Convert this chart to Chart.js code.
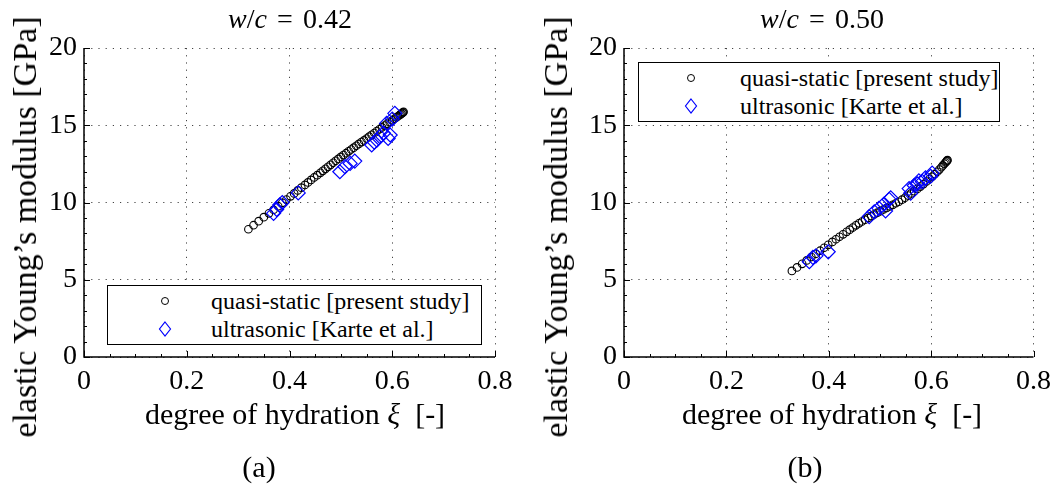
<!DOCTYPE html>
<html>
<head>
<meta charset="utf-8">
<script src="https://cdn.jsdelivr.net/npm/chart.js@4.4.0/dist/chart.umd.min.js"></script>
<style>
    body { margin: 0; background: #fff; }
    #wrap { position: relative; width: 1059px; height: 496px; overflow: hidden;
        font-family: 'Liberation Serif', 'DejaVu Serif', serif; color: #000; }
    #wrap canvas { position: absolute; top: 0; }
    .lbl { position: absolute; transform: translate(-50%, -50%); white-space: nowrap; line-height: 1; }
    .title { font-size: 28px; }
    .title .eq { margin: 0 0.36em; }
    .xlbl { font-size: 30px; }
    .ylbl { font-size: 34px; transform: translate(-50%, -50%) rotate(-90deg); }
    .sub { font-size: 30px; }
    .legend { position: absolute; box-sizing: border-box; border: 1.5px solid #000; background: #fff; font-size: 24px; }
    .legend svg { position: absolute; }
    .legend span { position: absolute; transform: translateY(-50%); white-space: nowrap; line-height: 1; }
</style>
</head>
<body>
<div id="wrap">
    <canvas id="chartA" width="529" height="496" style="left:0;"></canvas>
    <canvas id="chartB" width="530" height="496" style="left:529px;"></canvas>

    <div class="lbl title" style="left:290px;top:19px;"><i>w</i>/<i>c</i><span class="eq">=</span>0.42</div>
    <div class="lbl title" style="left:822px;top:19px;"><i>w</i>/<i>c</i><span class="eq">=</span>0.50</div>

    <div class="lbl ylbl" style="left:25px;top:227px;">elastic Young’s modulus [GPa]</div>
    <div class="lbl ylbl" style="left:556px;top:227px;">elastic Young’s modulus [GPa]</div>

    <div class="lbl xlbl" style="left:295px;top:414px;">degree of hydration <i>ξ</i>&nbsp;&nbsp;[-]</div>
    <div class="lbl xlbl" style="left:832px;top:414px;">degree of hydration <i>ξ</i>&nbsp;&nbsp;[-]</div>

    <div class="lbl sub" style="left:259px;top:467px;">(a)</div>
    <div class="lbl sub" style="left:805px;top:467px;">(b)</div>

    <div class="legend" style="left:107px;top:285px;width:375px;height:60px;">
        <svg style="left:50px;top:8px;" width="14" height="14"><circle cx="7" cy="7" r="3.5" fill="none" stroke="#000" stroke-width="1"/></svg>
        <span style="left:103px;top:15px;">quasi-static [present study]</span>
        <svg style="left:50px;top:35px;" width="14" height="16"><polygon points="7,1 12.5,8 7,15 1.5,8" fill="none" stroke="#0000ff" stroke-width="1.2"/></svg>
        <span style="left:103px;top:43px;">ultrasonic [Karte et al.]</span>
    </div>
    <div class="legend" style="left:638px;top:62px;width:362px;height:60px;">
        <svg style="left:45px;top:8px;" width="14" height="14"><circle cx="7" cy="7" r="3.5" fill="none" stroke="#000" stroke-width="1"/></svg>
        <span style="left:101px;top:15px;">quasi-static [present study]</span>
        <svg style="left:45px;top:35px;" width="14" height="16"><polygon points="7,1 12.5,8 7,15 1.5,8" fill="none" stroke="#0000ff" stroke-width="1.2"/></svg>
        <span style="left:101px;top:43px;">ultrasonic [Karte et al.]</span>
    </div>
</div>

<script>
// (a) w/c = 0.42 -- quasi-static
var xiQuasiA = [
    0.320, 0.330, 0.340, 0.350, 0.360, 0.369, 0.378, 0.386, 0.394, 0.402,
    0.409, 0.416, 0.423, 0.430, 0.436, 0.442, 0.448, 0.454, 0.460, 0.465,
    0.470, 0.475, 0.480, 0.485, 0.490, 0.495, 0.500, 0.505, 0.510, 0.515,
    0.520, 0.525, 0.530, 0.535, 0.540, 0.545, 0.550, 0.555, 0.560, 0.565,
    0.570, 0.575, 0.580, 0.585, 0.590, 0.595, 0.600, 0.604, 0.608, 0.611,
    0.614, 0.616, 0.618, 0.620, 0.621, 0.622
];
var eQuasiA = [
    8.27, 8.53, 8.79, 9.05, 9.30, 9.53, 9.76, 9.98, 10.19, 10.40,
    10.59, 10.78, 10.96, 11.14, 11.30, 11.46, 11.62, 11.77, 11.92, 12.05,
    12.18, 12.31, 12.44, 12.57, 12.70, 12.82, 12.95, 13.07, 13.19, 13.31,
    13.43, 13.55, 13.67, 13.79, 13.91, 14.02, 14.14, 14.26, 14.38, 14.50,
    14.62, 14.74, 14.86, 14.98, 15.09, 15.21, 15.32, 15.42, 15.51, 15.58,
    15.65, 15.70, 15.75, 15.80, 15.84, 15.87
];
// (a) ultrasonic
var xiUltraA = [0.369, 0.375, 0.381, 0.386, 0.417, 0.498, 0.508, 0.518, 0.527, 0.560,
    0.565, 0.570, 0.576, 0.583, 0.589, 0.592, 0.596, 0.600, 0.605];
var eUltraA = [9.30, 9.55, 9.84, 10.00, 10.62, 11.99, 12.32, 12.53, 12.68, 13.72,
    13.90, 14.04, 14.26, 14.48, 15.12, 14.15, 14.37, 15.40, 15.77];

// (b) w/c = 0.50 -- quasi-static
var xiQuasiB = [
    0.328, 0.338, 0.348, 0.357, 0.366, 0.375, 0.383, 0.391, 0.399, 0.407,
    0.414, 0.421, 0.428, 0.435, 0.441, 0.447, 0.453, 0.459, 0.465, 0.471,
    0.477, 0.483, 0.489, 0.495, 0.501, 0.507, 0.513, 0.519, 0.525, 0.531,
    0.537, 0.543, 0.549, 0.555, 0.561, 0.567, 0.573, 0.579, 0.585, 0.591,
    0.597, 0.602, 0.607, 0.612, 0.616, 0.620, 0.623, 0.626, 0.628, 0.630,
    0.631, 0.632
];
var eQuasiB = [
    5.57, 5.80, 6.03, 6.25, 6.47, 6.68, 6.88, 7.07, 7.26, 7.45,
    7.62, 7.78, 7.94, 8.10, 8.24, 8.38, 8.52, 8.65, 8.77, 8.89,
    9.00, 9.12, 9.23, 9.34, 9.44, 9.55, 9.65, 9.75, 9.85, 9.95,
    10.05, 10.18, 10.31, 10.45, 10.59, 10.73, 10.88, 11.03, 11.19, 11.36,
    11.53, 11.67, 11.83, 11.99, 12.13, 12.28, 12.40, 12.51, 12.59, 12.66,
    12.71, 12.74
];
// (b) ultrasonic
var xiUltraB = [0.362, 0.369, 0.375, 0.399, 0.479, 0.489, 0.498, 0.508, 0.511, 0.518,
    0.521, 0.557, 0.560, 0.567, 0.573, 0.576, 0.583, 0.589, 0.599, 0.602];
var eUltraB = [6.17, 6.45, 6.55, 6.81, 9.08, 9.40, 9.62, 9.90, 9.45, 10.20,
    10.30, 10.90, 10.60, 11.10, 11.20, 11.40, 11.35, 11.60, 11.70, 11.90];

var SERIF = "'Liberation Serif', 'DejaVu Serif', serif";

function toPoints(xs, ys) {
    return xs.map(function(x, i) { return { x: x, y: ys[i] }; });
}

// MATLAB-like axes: solid left/bottom lines with inward major + minor ticks
var matlabAxes = {
    id: 'matlabAxes',
    afterDraw: function(chart) {
        var ctx = chart.ctx, a = chart.chartArea;
        var xs = chart.scales.x, ys = chart.scales.y;
        ctx.save();
        ctx.strokeStyle = '#000';
        ctx.lineWidth = 1;
        ctx.beginPath();
        var i, px, len;
        for (i = 0; i <= 16; i++) {
            px = Math.round(xs.getPixelForValue(i * 0.05)) + 0.5;
            len = (i % 4 === 0) ? 6 : 3;
            ctx.moveTo(px, a.bottom);
            ctx.lineTo(px, a.bottom - len);
        }
        for (i = 0; i <= 20; i++) {
            px = Math.round(ys.getPixelForValue(i)) + 0.5;
            len = (i % 5 === 0) ? 6 : 3;
            ctx.moveTo(a.left, px);
            ctx.lineTo(a.left + len, px);
        }
        ctx.stroke();
        ctx.lineWidth = 1.5;
        ctx.beginPath();
        ctx.moveTo(a.left, a.top);
        ctx.lineTo(a.left, a.bottom);
        ctx.lineTo(a.right, a.bottom);
        ctx.stroke();
        ctx.restore();
    }
};

function makePanel(canvasId, quasiX, quasiY, ultraX, ultraY, yWidth, padRight) {
    var ctx = document.getElementById(canvasId);
    return new Chart(ctx, {
        type: 'scatter',
        data: {
            datasets: [{
                label: 'ultrasonic [Karte et al.]',
                data: toPoints(ultraX, ultraY),
                pointStyle: 'rectRot',
                pointRadius: 7,
                borderColor: '#0000ff',
                backgroundColor: 'rgba(0,0,0,0)',
                borderWidth: 1.2
            }, {
                label: 'quasi-static [present study]',
                data: toPoints(quasiX, quasiY),
                pointStyle: 'circle',
                pointRadius: 3.8,
                borderColor: '#000',
                backgroundColor: 'rgba(0,0,0,0)',
                borderWidth: 1.1
            }]
        },
        options: {
            responsive: false,
            animation: false,
            devicePixelRatio: 1,
            layout: { padding: { left: 0, top: 48, right: padRight, bottom: 0 } },
            plugins: { legend: { display: false }, tooltip: { enabled: false } },
            scales: {
                x: {
                    type: 'linear', min: 0, max: 0.8,
                    afterFit: function(s) { s.height = 139; },
                    grid: { color: '#444', lineWidth: 1, drawTicks: false },
                    border: { display: false, dash: [1.2, 6] },
                    ticks: {
                        stepSize: 0.2, padding: 8, color: '#000', maxRotation: 0,
                        font: { family: SERIF, size: 28 },
                        callback: function(v) { return v === 0 ? '0' : (+v.toFixed(1)).toString(); }
                    }
                },
                y: {
                    type: 'linear', min: 0, max: 20,
                    afterFit: function(s) { s.width = yWidth; },
                    grid: { color: '#444', lineWidth: 1, drawTicks: false },
                    border: { display: false, dash: [1.2, 6] },
                    ticks: {
                        stepSize: 5, padding: 7, color: '#000',
                        font: { family: SERIF, size: 28 }
                    }
                }
            }
        },
        plugins: [matlabAxes]
    });
}

makePanel('chartA', xiQuasiA, eQuasiA, xiUltraA, eUltraA, 84, 34);
makePanel('chartB', xiQuasiB, eQuasiB, xiUltraB, eUltraB, 95, 24);
</script>
</body>
</html>
